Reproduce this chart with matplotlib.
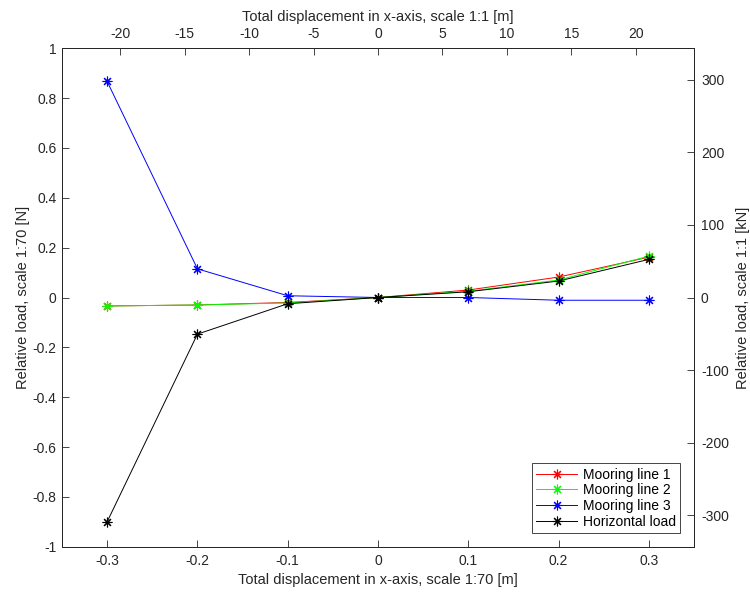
import matplotlib.pyplot as plt
import numpy as np

plt.rcParams['font.family'] = ['Liberation Sans', 'DejaVu Sans']
plt.rcParams['axes.unicode_minus'] = False

# displacement at scale 1:70 [m]
disp = [-0.3, -0.2, -0.1, 0.0, 0.1, 0.2, 0.3]
# relative loads at scale 1:70 [N]
line1 = [-0.034, -0.030, -0.020, 0.0, 0.030, 0.082, 0.162]
line2 = [-0.034, -0.030, -0.022, 0.0, 0.025, 0.070, 0.166]
line3 = [0.867, 0.115, 0.007, 0.0, 0.000, -0.011, -0.011]
horiz = [-0.900, -0.147, -0.025, 0.0, 0.023, 0.066, 0.153]

series = [(line1, '#ff0000', 'Mooring line 1'),
          (line2, '#00ff00', 'Mooring line 2'),
          (line3, '#0000ff', 'Mooring line 3'),
          (horiz, '#000000', 'Horizontal load')]

len_scale = 70           # 1:70
force_scale = 70**3 / 1000.0  # N at model -> kN full scale

axc = '#262626'
fig = plt.figure(figsize=(7.5, 5.96), dpi=100)
ax = fig.add_axes([62/750, 49.3/596, 632/750, 498.4/596])

for vals, col, lab in series:
    ax.plot(disp, vals, color=col, lw=0.7, marker=(8, 2, 0), ms=7, mew=0.8, label=lab)

ax.set_xlim(-0.35, 0.35)
ax.set_ylim(-1, 1)
ax.set_xticks(np.arange(-0.3, 0.31, 0.1))
ax.set_xticklabels(['-0.3', '-0.2', '-0.1', '0', '0.1', '0.2', '0.3'])
ax.set_yticks(np.arange(-1, 1.01, 0.2))
ax.set_yticklabels(['-1', '-0.8', '-0.6', '-0.4', '-0.2', '0', '0.2', '0.4', '0.6', '0.8', '1'])
ax.set_xlabel('Total displacement in x-axis, scale 1:70 [m]', fontsize=10.5, color=axc, labelpad=4)
ax.set_ylabel('Relative load, scale 1:70 [N]', fontsize=10.5, color=axc, labelpad=2)

ax_r = ax.twinx()
ax_r.set_ylim(-force_scale, force_scale)
ax_r.set_yticks(np.arange(-300, 301, 100))
ax_r.set_ylabel('Relative load, scale 1:1 [kN]', fontsize=10.5, color=axc, labelpad=5)

ax_t = ax.twiny()
ax_t.set_xlim(-0.35 * len_scale, 0.35 * len_scale)
ax_t.set_xticks(np.arange(-20, 21, 5))
ax_t.set_xlabel('Total displacement in x-axis, scale 1:1 [m]', fontsize=10.5, color=axc, labelpad=4.5)

for a in (ax, ax_r, ax_t):
    a.tick_params(direction='in', length=5, width=0.6, colors=axc, labelsize=10, pad=5)
    for s in a.spines.values():
        s.set_color(axc)
        s.set_linewidth(0.6)
ax.tick_params(top=False, right=False)
ax.tick_params(axis='y', pad=4)

leg = ax.legend(loc='lower right', fontsize=10, frameon=True, fancybox=False,
                edgecolor=axc, framealpha=1, handlelength=3.0, borderpad=0.3,
                labelspacing=0.12, handletextpad=0.4, borderaxespad=1.0)
leg.get_frame().set_linewidth(0.6)

fig.savefig('out.png', dpi=100)
